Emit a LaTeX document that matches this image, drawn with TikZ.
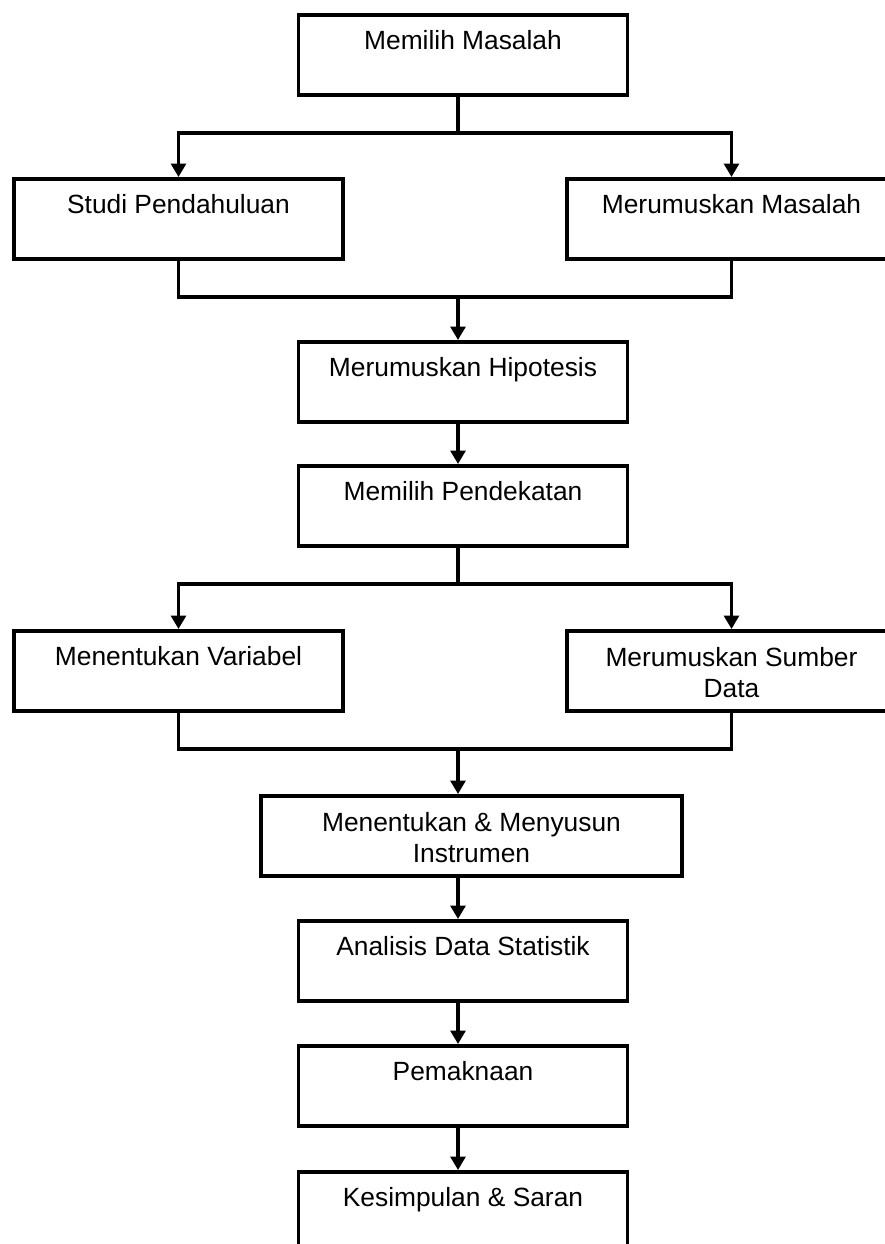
\documentclass[tikz,border=0pt]{standalone}
\usepackage{fontspec}
\setmainfont{Liberation Sans}
\usetikzlibrary{arrows.meta}
\usetikzlibrary{positioning}

\begin{document}
\begin{tikzpicture}[x=0.02cm,y=-0.02cm,
  stepbox/.style={rectangle,draw=black,line width=2.2pt,minimum width=6.58cm,minimum height=1.6cm,
    inner sep=0pt,anchor=north,align=center,font=\fontsize{15}{18}\selectfont,
    text height=0.7cm,text depth=0.9cm},
  twoline/.style={text height=1.335cm,text depth=0.265cm},
  link/.style={black,line width=1.8pt},
  arrowlink/.style={link,-{Triangle[width=3mm,length=2.7mm]}}]
\clip (0,0) rectangle (885,1244);

\node[stepbox] (pilih) at (463,13) {Memilih Masalah};
\node[stepbox] (studi) at (178.5,177) {Studi Pendahuluan};
\node[stepbox] (rumus) at (731.5,177) {Merumuskan Masalah};
\node[stepbox] (hipo) at (463,340) {Merumuskan Hipotesis};
\node[stepbox] (dekat) at (463,464) {Memilih Pendekatan};
\node[stepbox] (var) at (178.5,629) {Menentukan Variabel};
\node[stepbox,twoline] (sumber) at (731.5,629) {Merumuskan Sumber\\Data};
\node[stepbox,twoline,minimum width=8.42cm] (instr) at (471.5,794) {Menentukan \& Menyusun\\Instrumen};
\node[stepbox] (analisis) at (463,919) {Analisis Data Statistik};
\node[stepbox] (makna) at (463,1044) {Pemaknaan};
\node[stepbox] (simpul) at (463,1170) {Kesimpulan \& Saran};

\coordinate (sp) at (458,0);
\coordinate (cab1) at (458,133);
\coordinate (gab1) at (458,297);
\coordinate (cab2) at (458,584);
\coordinate (gab2) at (458,749);

\draw[link] (pilih.south -| sp) -- (cab1);
\draw[arrowlink] (cab1) -| (studi.north);
\draw[arrowlink] (cab1) -| (rumus.north);
\draw[link] (studi.south) |- (gab1) -| (rumus.south);
\draw[arrowlink] (gab1) -- (hipo.north -| sp);
\draw[arrowlink] (hipo.south -| sp) -- (dekat.north -| sp);

\draw[link] (dekat.south -| sp) -- (cab2);
\draw[arrowlink] (cab2) -| (var.north);
\draw[arrowlink] (cab2) -| (sumber.north);
\draw[link] (var.south) |- (gab2) -| (sumber.south);
\draw[arrowlink] (gab2) -- (instr.north -| sp);
\draw[arrowlink] (instr.south -| sp) -- (analisis.north -| sp);
\draw[arrowlink] (analisis.south -| sp) -- (makna.north -| sp);
\draw[arrowlink] (makna.south -| sp) -- (simpul.north -| sp);

\end{tikzpicture}
\end{document}
